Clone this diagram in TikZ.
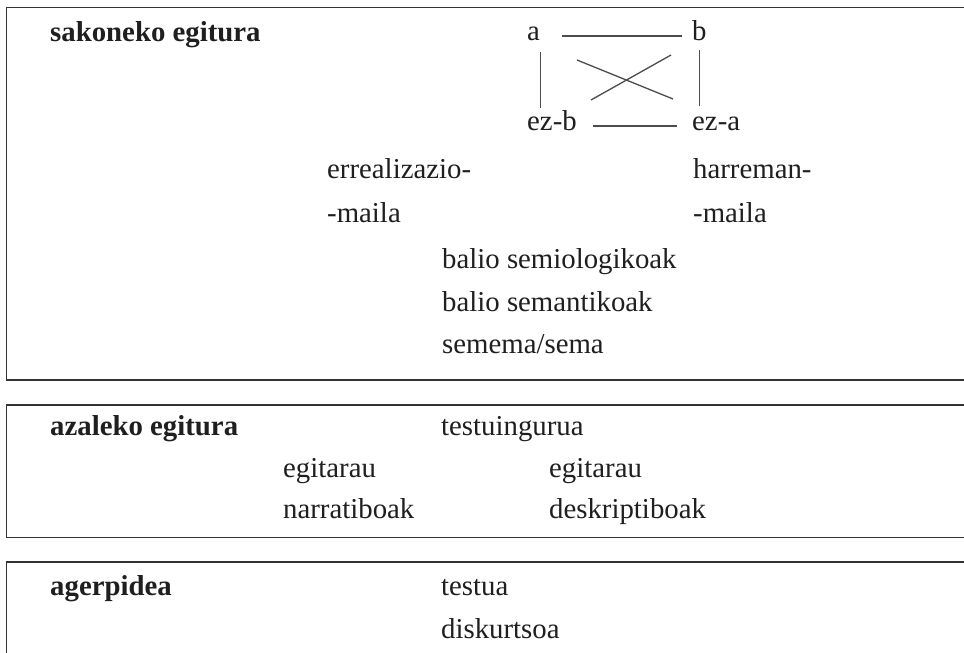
\documentclass[tikz,border=0pt]{standalone}
\usepackage{fontspec}
\setmainfont{Liberation Serif}
\begin{document}
\begin{tikzpicture}[x=1pt,y=-1pt,
  txt/.style={anchor=base west,inner sep=0pt,font=\fontsize{28.8}{34}\selectfont,text=black!88},
  ttl/.style={txt,font=\fontsize{28.8}{34}\selectfont\bfseries},
  sq/.style={txt,text height=14pt,text depth=6pt},
  frame/.style={draw=black!80,line width=1.8pt},
  ln/.style={draw=black!70,line width=1.3pt}]
\useasboundingbox (0,0) rectangle (964,653);
\clip (0,0) rectangle (964,653);
\fill[white] (0,0) rectangle (964,653);
% frames
\draw[frame] (6.5,7.5) rectangle (975,380);
\draw[frame] (6.5,405) rectangle (975,537.5);
\draw[frame] (6.5,562) rectangle (975,680);
% box 1
\node[ttl] (t1) at (50,41) {sakoneko egitura};
\node[sq] (a) at (527,40) {a};
\node[sq] (b) at (692,40) {b};
\node[sq] (ezb) at (527,130) {ez-b};
\node[sq] (eza) at (692,130) {ez-a};
\draw[ln,shorten <=22pt,shorten >=10pt] (a.east) -- (b.west);
\draw[ln,shorten <=16pt,shorten >=15pt] (ezb.east) -- (eza.west);
\draw[ln,shorten <=6pt,shorten >=8pt] (a.south east) -- (a.south east |- ezb.north);
\draw[ln,shorten <=4pt,shorten >=10pt] (b.south) -- (b.south |- eza.north);
\coordinate (c1) at (577,60);
\coordinate (c2) at (673,99);
\coordinate (c3) at (591,100);
\coordinate (c4) at (671,55);
\draw[ln] (c1) -- (c2);
\draw[ln] (c3) -- (c4);
\node[txt] (er1) at (327,178) {errealizazio-};
\node[txt] (er2) at (327,222) {-maila};
\node[txt] (hr1) at (693,178) {harreman-};
\node[txt] (hr2) at (693,222) {-maila};
\node[txt] (bs1) at (442,268) {balio semiologikoak};
\node[txt] (bs2) at (442,311) {balio semantikoak};
\node[txt] (bs3) at (442,353) {semema/sema};
% box 2
\node[ttl] (t2) at (50,435) {azaleko egitura};
\node[txt] (tu) at (441,435) {testuingurua};
\node[txt] (eg1) at (283,477) {egitarau};
\node[txt] (na) at (283,518) {narratiboak};
\node[txt] (eg2) at (549,477) {egitarau};
\node[txt] (de) at (549,518) {deskriptiboak};
% box 3
\node[ttl] (t3) at (50,595) {agerpidea};
\node[txt] (ts) at (441,595) {testua};
\node[txt] (di) at (441,638) {diskurtsoa};
\end{tikzpicture}
\end{document}
